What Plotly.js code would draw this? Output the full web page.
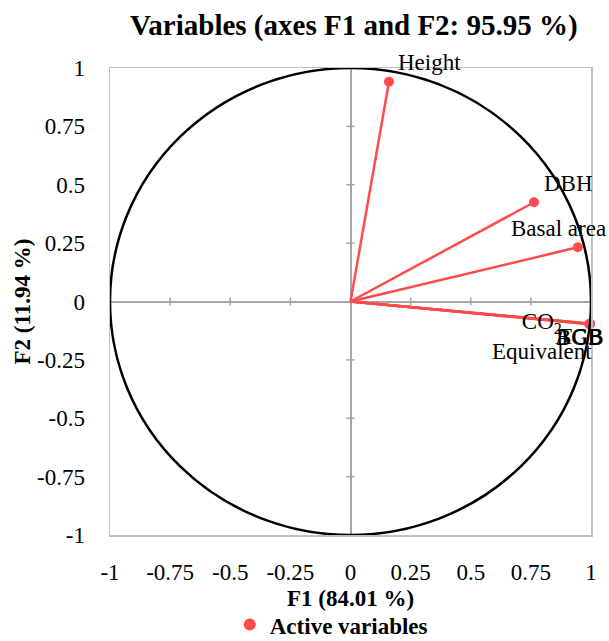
<!DOCTYPE html>
<html>
<head>
<meta charset="utf-8">
<script src="https://cdn.plot.ly/plotly-3.0.1.min.js"></script>
<style>html,body{margin:0;padding:0;background:#fff;}</style>
</head>
<body>
<div id="chart" style="width:609px;height:641px;"></div>
<script>
// Data
const variables = ["Height", "DBH", "Basal area", "CO<sub>2</sub><br>Equivalent", "AGB", "BGB", "TCB"];
const f1 = [0.160, 0.763, 0.945, 0.993, 0.995, 0.994, 0.996];
const f2 = [0.941, 0.425, 0.232, -0.096, -0.094, -0.098, -0.095];
const tickVals = [-1, -0.75, -0.5, -0.25, 0, 0.25, 0.5, 0.75, 1];
const tickText = ["-1", "-0.75", "-0.5", "-0.25", "0", "0.25", "0.5", "0.75", "1"];

// label placement (style only)
const labelStyle = [
  {xanchor: "left", xshift: 7, yshift: 19},
  {xanchor: "left", xshift: 8, yshift: 19},
  {xanchor: "right", xshift: 30, yshift: 19},
  {xanchor: "center", xshift: -47, yshift: -13},
  {xanchor: "center", xshift: -10, yshift: -13},
  {xanchor: "center", xshift: -10, yshift: -13},
  {xanchor: "center", xshift: -10, yshift: -13}
];

const red = "#FF4B4B";
const serif = "Liberation Serif, Times New Roman, serif";

// vector lines from origin
const lx = [], ly = [];
for (let i = 0; i < f1.length; i++) { lx.push(0, f1[i], null); ly.push(0, f2[i], null); }

const traces = [
  {x: lx, y: ly, mode: "lines", line: {color: red, width: 2.5}, showlegend: false, hoverinfo: "skip", cliponaxis: false},
  {x: f1, y: f2, mode: "markers", marker: {color: red, size: 10}, name: "<b>Active variables</b>", cliponaxis: false}
];

const shapes = [
  {type: "circle", xref: "x", yref: "y", x0: -1, x1: 1, y0: -1, y1: 1, line: {color: "#000", width: 2.5}, layer: "above"}
];
tickVals.forEach(v => {
  if (v === 0) return;
  shapes.push({type: "line", xref: "x", yref: "y", xsizemode: "pixel", xanchor: 0, x0: -4, x1: 4, y0: v, y1: v, line: {color: "#A6A6A6", width: 1.5}, layer: "below"});
  shapes.push({type: "line", xref: "x", yref: "y", ysizemode: "pixel", yanchor: 0, y0: -4, y1: 4, x0: v, x1: v, line: {color: "#A6A6A6", width: 1.5}, layer: "below"});
});

const annotations = variables.map((t, i) => ({
  x: f1[i], y: f2[i], xref: "x", yref: "y", text: t, showarrow: false,
  xanchor: labelStyle[i].xanchor, yanchor: "middle",
  xshift: labelStyle[i].xshift, yshift: labelStyle[i].yshift,
  font: {family: serif, size: 23, color: "#000"}
}));

const axisCommon = {
  range: [-1, 1], tickvals: tickVals, ticktext: tickText, automargin: false,
  showgrid: false, zeroline: true, zerolinecolor: "#A6A6A6", zerolinewidth: 2,
  showline: true, mirror: true, linecolor: "#C0C0C0", linewidth: 1.5,
  ticks: "outside", ticklen: 16, tickcolor: "rgba(0,0,0,0)",
  tickfont: {family: serif, size: 23, color: "#000"}, fixedrange: true
};

const layout = {
  width: 609, height: 641,
  margin: {l: 110, r: 18, t: 68, b: 106, autoexpand: false},
  paper_bgcolor: "#fff", plot_bgcolor: "#fff",
  title: {text: "<b>Variables (axes F1 and F2: 95.95 %)</b>", font: {family: serif, size: 29, color: "#000"},
          x: 0.507, xanchor: "center", y: 0.962, yanchor: "middle", xref: "paper", yref: "container"},
  xaxis: Object.assign({}, axisCommon, {title: {text: "<b>F1 (84.01 %)</b>", font: {family: serif, size: 23, color: "#000"}, standoff: 6}}),
  yaxis: Object.assign({}, axisCommon, {ticklen: 19, title: {text: "<b>F2 (11.94 %)</b>", font: {family: serif, size: 23, color: "#000"}, standoff: 0}}),
  showlegend: true,
  legend: {orientation: "h", x: 0.46, xanchor: "center", y: -0.192, yanchor: "middle",
           font: {family: serif, size: 23, color: "#000"}, itemwidth: 30, itemsizing: "constant"},
  shapes: shapes,
  annotations: annotations
};

Plotly.newPlot("chart", traces, layout, {displayModeBar: false, staticPlot: true});
</script>
</body>
</html>
